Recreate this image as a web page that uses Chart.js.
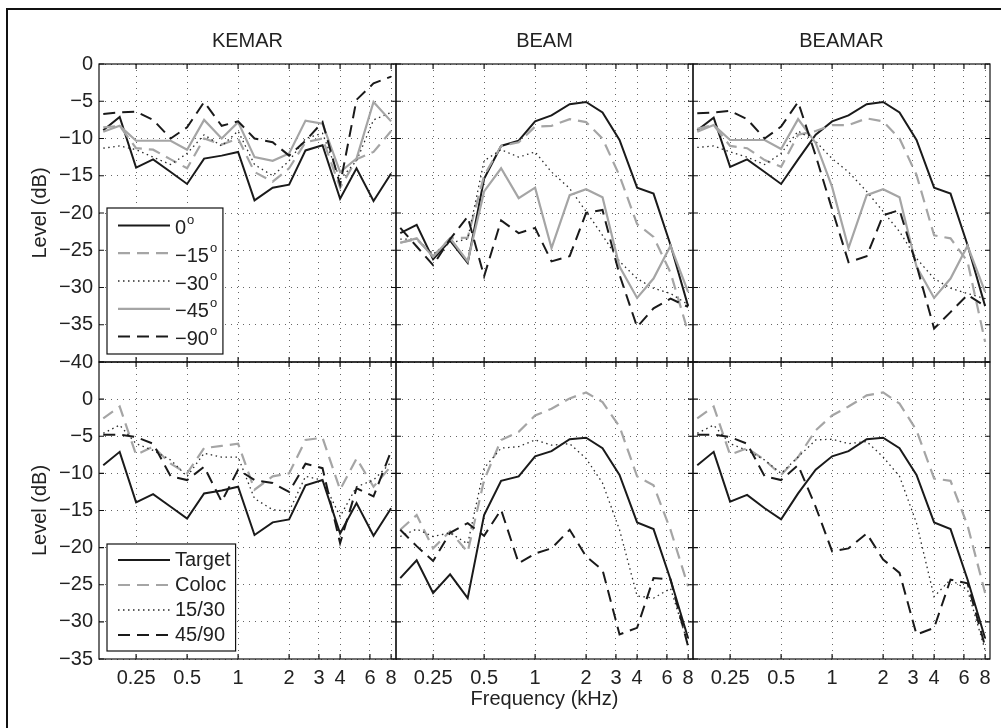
<!DOCTYPE html>
<html>
<head>
<meta charset="utf-8">
<title>Level vs frequency</title>
<script src="https://cdn.jsdelivr.net/npm/chart.js@4.4.0/dist/chart.umd.min.js"></script>
<style>
  html, body { margin: 0; padding: 0; background: #fff; }
  #wrap { position: relative; width: 1001px; height: 728px; overflow: hidden; }
  #wrap canvas { position: absolute; left: 0; top: 0; }
  #frame { position: absolute; left: 6px; top: 8px; width: 1010px; height: 740px; border: 2px solid #111; }
</style>
</head>
<body>
<div id="wrap"><div id="frame"></div></div>
<script>
// third-octave centre frequencies (kHz)
const freqs = [0.16, 0.2, 0.25, 0.315, 0.4, 0.5, 0.63, 0.8, 1, 1.25, 1.6, 2, 2.5, 3.15, 4, 5, 6.3, 8];
const xTickValues = [0.25, 0.5, 1, 2, 3, 4, 6, 8];
const xTickLabels = ['0.25', '0.5', '1', '2', '3', '4', '6', '8'];
const panelTitles = ['KEMAR', 'BEAM', 'BEAMAR'];
const angleLabels = ['0', '−15', '−30', '−45', '−90'];
const conditionLabels = ['Target', 'Coloc', '15/30', '45/90'];

// top row: level per angle
const kemar0  = [-8.9, -7.1, -13.9, -12.8, -14.5, -16.1, -12.7, -12.3, -11.8, -18.3, -16.6, -16.2, -11.6, -10.9, -18.1, -14.0, -18.4, -14.7];
const kemar15 = [-8.5, -8.3, -11.3, -11.5, -12.8, -14.0, -10.0, -10.8, -10.0, -14.5, -15.8, -14.0, -10.5, -10.0, -16.6, -12.8, -11.8, -9.0];
const kemar30 = [-11.3, -11.0, -11.5, -12.5, -13.5, -12.0, -9.5, -11.0, -9.0, -13.5, -15.0, -13.0, -10.0, -9.3, -15.5, -13.0, -7.5, -6.5];
const kemar45 = [-9.1, -8.3, -10.3, -10.3, -10.3, -11.5, -7.5, -10.0, -7.8, -12.5, -13.0, -12.0, -7.6, -8.0, -14.5, -12.7, -5.1, -7.7];
const kemar90 = [-6.7, -6.5, -6.4, -7.5, -10.0, -8.5, -5.1, -8.3, -7.7, -10.0, -10.5, -12.3, -10.3, -7.8, -16.2, -4.8, -2.6, -1.7];

const beam0  = [-22.7, -21.6, -26.2, -23.7, -26.7, -15.4, -11.0, -10.3, -7.7, -6.9, -5.4, -5.1, -6.5, -10.2, -16.6, -17.4, -24.3, -32.5];
const beam15 = [-24.0, -23.5, -25.8, -23.4, -23.3, -15.0, -11.0, -10.5, -8.4, -8.3, -7.4, -7.8, -10.0, -15.0, -21.5, -23.2, -28.0, -36.0];
const beam30 = [-23.5, -23.5, -25.5, -24.0, -23.5, -13.0, -11.5, -12.5, -11.8, -14.5, -16.7, -19.8, -23.0, -26.5, -28.8, -30.1, -30.8, -32.3];
const beam45 = [-24.0, -23.4, -25.9, -23.4, -26.5, -17.1, -14.0, -18.0, -16.6, -24.7, -17.6, -16.8, -17.9, -27.2, -31.4, -28.8, -24.4, -30.6];
const beam90 = [-22.0, -24.5, -27.0, -23.5, -20.5, -28.5, -21.0, -22.7, -22.0, -26.5, -25.8, -20.0, -19.6, -28.3, -35.3, -32.8, -31.5, -32.6];

const beamar0  = [-8.9, -7.2, -13.8, -12.8, -14.5, -16.1, -12.8, -9.5, -7.7, -6.9, -5.4, -5.1, -6.5, -10.2, -16.6, -17.4, -24.3, -32.5];
const beamar15 = [-8.7, -8.2, -11.0, -11.3, -12.9, -13.8, -9.5, -9.0, -8.2, -8.2, -7.3, -7.7, -10.0, -14.9, -23.0, -23.4, -26.5, -37.3];
const beamar30 = [-11.2, -11.0, -11.8, -12.5, -13.5, -12.0, -9.0, -10.4, -12.7, -14.5, -17.1, -19.8, -22.5, -26.1, -28.8, -30.1, -30.8, -31.5];
const beamar45 = [-9.1, -8.2, -10.2, -10.2, -10.2, -11.4, -7.4, -10.6, -16.5, -24.7, -17.6, -16.8, -17.9, -27.2, -31.4, -28.8, -24.4, -30.6];
const beamar90 = [-6.6, -6.5, -6.3, -7.4, -10.0, -8.4, -5.1, -12.3, -19.5, -26.6, -25.8, -20.3, -19.6, -27.0, -35.5, -33.3, -31.0, -32.5];

// bottom row: level per condition
const kemarTarget = [-8.9, -7.1, -13.9, -12.8, -14.5, -16.1, -12.7, -12.3, -11.8, -18.3, -16.6, -16.2, -11.6, -10.9, -18.1, -14.0, -18.4, -14.7];
const kemarColoc  = [-2.6, -1.0, -7.5, -6.4, -8.7, -10.0, -6.6, -6.3, -6.0, -12.2, -10.4, -10.0, -5.5, -5.2, -12.2, -8.0, -11.8, -9.0];
const kemar1530   = [-4.6, -3.5, -6.0, -6.9, -8.2, -10.4, -7.3, -7.8, -7.8, -13.4, -14.9, -15.1, -10.4, -10.9, -15.8, -11.8, -10.9, -8.5];
const kemar4590   = [-4.8, -4.8, -5.1, -6.0, -10.4, -10.9, -9.1, -13.8, -9.5, -10.9, -11.3, -12.5, -8.7, -9.3, -19.4, -12.0, -13.1, -7.0];

const beamTarget = [-24.1, -21.7, -26.1, -23.6, -26.8, -15.6, -11.0, -10.4, -7.7, -7.0, -5.4, -5.2, -6.6, -10.2, -16.6, -17.5, -24.3, -32.2];
const beamColoc  = [-17.6, -15.6, -20.1, -17.8, -20.6, -10.9, -5.5, -4.4, -2.2, -1.3, 0.1, 0.9, -0.4, -3.7, -10.4, -11.6, -17.6, -25.2];
const beam1530   = [-18.5, -17.5, -18.5, -18.0, -19.5, -9.3, -6.6, -6.4, -5.5, -6.2, -6.0, -8.0, -11.3, -17.6, -26.5, -26.8, -25.5, -33.0];
const beam4590   = [-17.6, -19.8, -21.8, -18.0, -16.7, -18.4, -14.9, -22.1, -20.8, -20.1, -17.6, -21.2, -23.0, -31.7, -30.8, -24.1, -24.3, -33.3];

const beamarTarget = [-8.9, -7.1, -13.8, -12.9, -14.7, -16.2, -12.7, -9.5, -7.7, -7.0, -5.4, -5.2, -6.6, -10.2, -16.6, -17.5, -24.3, -32.2];
const beamarColoc  = [-2.6, -1.0, -7.5, -6.6, -8.2, -10.2, -7.8, -4.2, -2.2, -1.0, 0.5, 0.9, -0.6, -4.2, -10.7, -11.0, -17.0, -26.1];
const beamar1530   = [-4.6, -3.5, -6.0, -6.9, -8.2, -10.0, -7.8, -5.5, -5.4, -6.0, -5.7, -7.8, -10.4, -16.7, -26.6, -24.3, -25.7, -33.8];
const beamar4590   = [-4.8, -4.8, -5.1, -6.0, -10.4, -10.9, -8.9, -14.5, -20.5, -20.1, -18.1, -21.6, -23.4, -31.7, -30.8, -24.3, -24.8, -33.3];

const FONT = '"Liberation Sans", Arial, Helvetica, sans-serif';
const TEXT = '#222';

// panel boxes in page pixels
const colLeft = [99, 396, 693];
const colRight = [396, 693, 990];
const rowBottom = [362, 659];

const blackSolid  = { borderColor: '#1a1a1a', borderWidth: 2, borderDash: [] };
const grayDashed  = { borderColor: '#a5a5a5', borderWidth: 2.2, borderDash: [12, 7] };
const blackDotted = { borderColor: '#2a2a2a', borderWidth: 1.3, borderDash: [1.5, 3.5] };
const graySolid   = { borderColor: '#a5a5a5', borderWidth: 2.2, borderDash: [] };
const blackDashed = { borderColor: '#1a1a1a', borderWidth: 2, borderDash: [12, 7] };

const topStyles = [blackSolid, grayDashed, blackDotted, graySolid, blackDashed];
const bottomStyles = [blackSolid, grayDashed, blackDotted, blackDashed];

const panels = [
    { row: 0, col: 0, labels: angleLabels, series: [kemar0, kemar15, kemar30, kemar45, kemar90], legend: true },
    { row: 0, col: 1, labels: angleLabels, series: [beam0, beam15, beam30, beam45, beam90] },
    { row: 0, col: 2, labels: angleLabels, series: [beamar0, beamar15, beamar30, beamar45, beamar90] },
    { row: 1, col: 0, labels: conditionLabels, series: [kemarTarget, kemarColoc, kemar1530, kemar4590], legend: true },
    { row: 1, col: 1, labels: conditionLabels, series: [beamTarget, beamColoc, beam1530, beam4590] },
    { row: 1, col: 2, labels: conditionLabels, series: [beamarTarget, beamarColoc, beamar1530, beamar4590] }
];

function fmt(v) {
    return v < 0 ? '−' + Math.abs(v) : String(v);
}

// box around the plot area plus inward tick marks
const panelFrame = {
    id: 'panelFrame',
    afterDraw(chart) {
        const { ctx, chartArea: a, scales } = chart;
        ctx.save();
        ctx.setLineDash([]);
        ctx.strokeStyle = '#111';
        ctx.lineWidth = 1.2;
        ctx.strokeRect(a.left, a.top, a.right - a.left, a.bottom - a.top);
        ctx.beginPath();
        scales.x.ticks.forEach(t => {
            const px = scales.x.getPixelForValue(t.value);
            ctx.moveTo(px, a.bottom); ctx.lineTo(px, a.bottom - 5);
            ctx.moveTo(px, a.top); ctx.lineTo(px, a.top + 5);
        });
        scales.y.ticks.forEach(t => {
            const py = scales.y.getPixelForValue(t.value);
            ctx.moveTo(a.left, py); ctx.lineTo(a.left + 5, py);
            ctx.moveTo(a.right, py); ctx.lineTo(a.right - 5, py);
        });
        ctx.stroke();
        ctx.restore();
    }
};

// legend box drawn inside the lower left corner of the plot
const insideLegend = {
    id: 'insideLegend',
    afterDraw(chart, args, opts) {
        if (!opts.display) return;
        const { ctx, chartArea: a } = chart;
        const sets = chart.data.datasets;
        ctx.save();
        ctx.font = '20px ' + FONT;
        let textW = 0;
        sets.forEach(ds => {
            let w = ctx.measureText(ds.label).width;
            if (opts.degree) w += 9;
            textW = Math.max(textW, w);
        });
        const boxW = 68 + textW + 5;
        const boxH = opts.pad * 2 + sets.length * opts.rowHeight;
        const left = a.left + 8;
        const top = a.bottom - 8 - boxH;
        ctx.fillStyle = '#fff';
        ctx.fillRect(left, top, boxW, boxH);
        ctx.strokeStyle = '#111';
        ctx.lineWidth = 1.2;
        ctx.setLineDash([]);
        ctx.strokeRect(left, top, boxW, boxH);
        sets.forEach((ds, i) => {
            const y = top + opts.pad + opts.rowHeight * (i + 0.5);
            ctx.beginPath();
            ctx.setLineDash(ds.borderDash);
            ctx.strokeStyle = ds.borderColor;
            ctx.lineWidth = ds.borderWidth;
            ctx.moveTo(left + 11, y);
            ctx.lineTo(left + 63, y);
            ctx.stroke();
            ctx.setLineDash([]);
            ctx.fillStyle = TEXT;
            ctx.textAlign = 'left';
            ctx.textBaseline = 'middle';
            ctx.font = '20px ' + FONT;
            const ty = y + (opts.degree ? 3 : 0);
            ctx.fillText(ds.label, left + 68, ty);
            if (opts.degree) {
                const w = ctx.measureText(ds.label).width;
                ctx.font = '13px ' + FONT;
                ctx.fillText('o', left + 68 + w + 1, ty - 8);
            }
        });
        ctx.restore();
    }
};

function makePanel(p) {
    const canvas = document.createElement('canvas');
    canvas.width = 1001;
    canvas.height = 728;
    document.getElementById('wrap').appendChild(canvas);

    const styles = p.row === 0 ? topStyles : bottomStyles;
    const datasets = p.series.map((values, i) => Object.assign({
        label: p.labels[i],
        data: values.map((v, k) => ({ x: freqs[k], y: v })),
        pointRadius: 0,
        fill: false,
        tension: 0,
        order: p.series.length - i
    }, styles[i]));

    const yW = p.col === 0 ? 75 : 0;
    const xH = p.row === 1 ? 60 : 0;
    const gridColor = 'rgba(0,0,0,0.6)';

    new Chart(canvas.getContext('2d'), {
        type: 'line',
        data: { datasets: datasets },
        plugins: [panelFrame, insideLegend],
        options: {
            responsive: false,
            animation: false,
            devicePixelRatio: 1,
            layout: {
                padding: {
                    left: colLeft[p.col] - yW,
                    right: 1001 - colRight[p.col],
                    top: p.row === 0 ? 29 : 362,
                    bottom: 728 - rowBottom[p.row] - xH
                }
            },
            plugins: {
                legend: { display: false },
                tooltip: { enabled: false },
                title: {
                    display: p.row === 0,
                    text: panelTitles[p.col],
                    fullSize: false,
                    color: TEXT,
                    font: { family: FONT, size: 20, weight: 'normal' },
                    padding: { top: 0, bottom: 11 }
                },
                insideLegend: {
                    display: !!p.legend,
                    degree: p.row === 0,
                    rowHeight: p.row === 0 ? 27.8 : 25,
                    pad: 3.5
                }
            },
            scales: {
                x: {
                    type: 'logarithmic',
                    min: 0.151,
                    max: 8.55,
                    afterBuildTicks: axis => {
                        axis.ticks = xTickValues.map(v => ({ value: v }));
                    },
                    afterFit: axis => { axis.height = xH; },
                    ticks: {
                        display: p.row === 1,
                        autoSkip: false,
                        maxRotation: 0,
                        padding: 7,
                        color: TEXT,
                        font: { family: FONT, size: 20 },
                        callback: v => xTickLabels[xTickValues.indexOf(v)]
                    },
                    grid: { color: gridColor, lineWidth: 1, drawTicks: false },
                    border: { display: false, dash: [1, 5] },
                    title: {
                        display: p.row === 1 && p.col === 1,
                        text: 'Frequency (kHz)',
                        color: TEXT,
                        font: { family: FONT, size: 20 },
                        padding: { top: 0, bottom: 8 }
                    }
                },
                y: {
                    type: 'linear',
                    min: p.row === 0 ? -40 : -35,
                    max: p.row === 0 ? 0 : 5,
                    afterFit: axis => { axis.width = yW; },
                    ticks: {
                        display: p.col === 0,
                        stepSize: 5,
                        padding: 6,
                        color: TEXT,
                        font: { family: FONT, size: 20 },
                        callback: v => (v === 5 ? '' : fmt(v))
                    },
                    grid: { color: gridColor, lineWidth: 1, drawTicks: false },
                    border: { display: false, dash: [1, 5] },
                    title: {
                        display: p.col === 0,
                        text: 'Level (dB)',
                        color: TEXT,
                        font: { family: FONT, size: 20 },
                        padding: { top: 4, bottom: 0 }
                    }
                }
            }
        }
    });
}

panels.forEach(makePanel);
</script>
</body>
</html>
